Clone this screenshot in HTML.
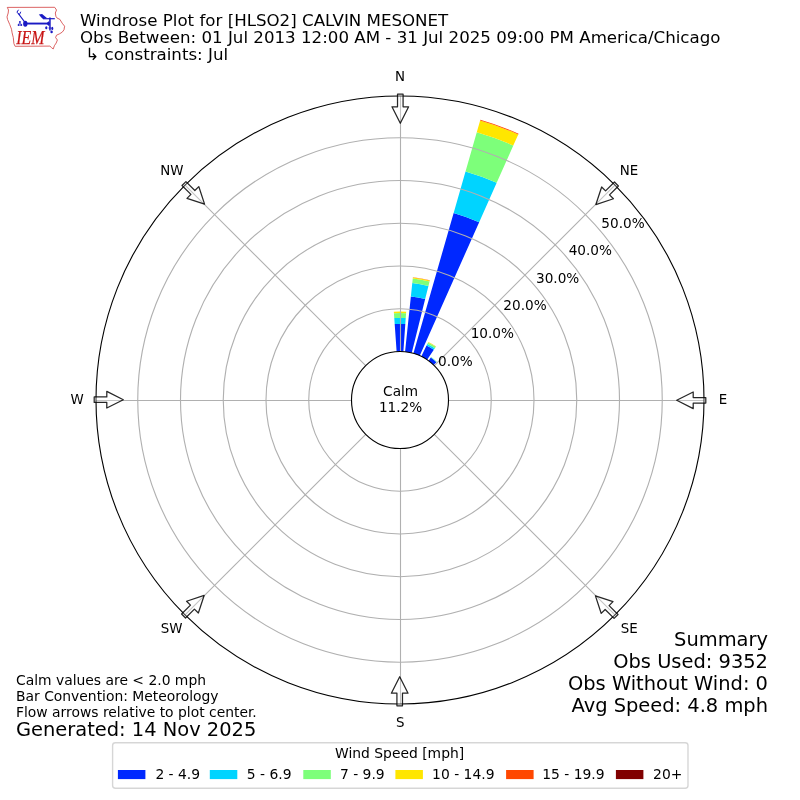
<!DOCTYPE html>
<html lang="en"><head><meta charset="utf-8"><title>Windrose Plot for [HLSO2] CALVIN MESONET</title>
<style>
html,body{margin:0;padding:0;background:#fff;}
body{width:800px;height:800px;overflow:hidden;}
svg{display:block;}
svg text{font-family:"DejaVu Sans","Liberation Sans",sans-serif;fill:#000;}
</style></head><body>
<svg width="800" height="800" viewBox="0 0 800 800">
<rect width="800" height="800" fill="#fff"/>
<g id="iem-logo">
<path d="M7.3 7.4L54.7 7.3L56.5 10L55.3 13L55.9 16.3L57.1 18.1L59.8 19.3L62.2 23.2L64.6 26.2L64 29.8L62.2 32.2L59.2 34L56.5 35.2L55.6 37.6L57.4 40L56.2 43L54.4 45.7L53.2 49L51.4 47.5L49.9 46.1L15.1 46.3L13.9 43.6L13.3 37.6L12.1 32.8L11.5 29.2L9.7 24.4L7.6 19.6L7 16.9L8.2 13L8.5 10Z" fill="none" stroke="#d23c3c" stroke-width="0.8" stroke-linejoin="round"/>
<g fill="#1a1ac4" stroke="none">
<ellipse cx="25.3" cy="23.7" rx="2.2" ry="3"/>
<rect x="25.3" y="22.6" width="24.6" height="1.9"/>
<rect x="49.2" y="17.5" width="1.5" height="13"/>
<path d="M47.2 22.6L49.2 21L49.2 26.2L47.2 24.5Z"/>
<rect x="43" y="18.1" width="11.8" height="1.2"/>
<path d="M38.8 14.4L42.1 14.1L46.9 18.1L43 19.1L41.4 17.6Z"/>
<ellipse cx="46.3" cy="27.8" rx="1.1" ry="1.5"/>
<ellipse cx="52.3" cy="28.4" rx="1.0" ry="1.7"/>
<ellipse cx="51.6" cy="31.9" rx="1.2" ry="1.4"/>
<rect x="48.5" y="27.6" width="2.9" height="0.8"/>
<circle cx="19.9" cy="22" r="0.95"/>
<circle cx="18.7" cy="25" r="1.05"/>
<circle cx="21.2" cy="25" r="1.05"/>
<rect x="18.6" y="23.3" width="2.6" height="0.6"/>
</g>
<g fill="none" stroke="#1a1ac4" stroke-width="1.1" stroke-linecap="round">
<path d="M24.6 21.8L18.4 13.6"/>
<path d="M18.4 13.6L16.9 12.3L18.3 10.1" stroke-width="1"/>
<path d="M19.5 14.6L20.6 12.1" stroke-width="1"/>
</g>
<text x="16.2" y="43.9" font-size="18.3" textLength="28.2" lengthAdjust="spacingAndGlyphs" style="font-family:'Liberation Serif','DejaVu Serif',serif;font-style:italic;fill:#c81414;stroke:#c81414;stroke-width:0.25">IEM</text>
</g>

<g shape-rendering="geometricPrecision">
<path d="M396.62 351.62L394.69 324.09A76.1 76.1 0 0 1 405.31 324.09L403.38 351.62A48.5 48.5 0 0 0 396.62 351.62Z" fill="#0028ff"/>
<path d="M394.69 324.09L394.27 318.1A82.1 82.1 0 0 1 405.73 318.1L405.31 324.09A76.1 76.1 0 0 0 394.69 324.09Z" fill="#00d4ff"/>
<path d="M394.27 318.1L393.93 313.21A87 87 0 0 1 406.07 313.21L405.73 318.1A82.1 82.1 0 0 0 394.27 318.1Z" fill="#7dff7a"/>
<path d="M393.93 313.21L393.83 311.82A88.4 88.4 0 0 1 406.17 311.82L406.07 313.21A87 87 0 0 0 393.93 313.21Z" fill="#ffe600"/>
<path d="M405.07 351.77L410.87 296.57A104 104 0 0 1 425.16 299.09L411.73 352.94A48.5 48.5 0 0 0 405.07 351.77Z" fill="#0028ff"/>
<path d="M410.87 296.57L412.29 283.04A117.6 117.6 0 0 1 428.45 285.89L425.16 299.09A104 104 0 0 0 410.87 296.57Z" fill="#00d4ff"/>
<path d="M412.29 283.04L412.77 278.47A122.2 122.2 0 0 1 429.56 281.43L428.45 285.89A117.6 117.6 0 0 0 412.29 283.04Z" fill="#7dff7a"/>
<path d="M412.77 278.47L412.87 277.57A123.1 123.1 0 0 1 429.78 280.56L429.56 281.43A122.2 122.2 0 0 0 412.77 278.47Z" fill="#ffe600"/>
<path d="M412.87 277.57L412.9 277.28A123.4 123.4 0 0 1 429.85 280.27L429.78 280.56A123.1 123.1 0 0 0 412.87 277.57Z" fill="#ff4700"/>
<path d="M413.37 353.38L453.65 212.89A194.65 194.65 0 0 1 479.17 222.18L419.73 355.69A48.5 48.5 0 0 0 413.37 353.38Z" fill="#0028ff"/>
<path d="M453.65 212.89L465.52 171.51A237.7 237.7 0 0 1 496.68 182.85L479.17 222.18A194.65 194.65 0 0 0 453.65 212.89Z" fill="#00d4ff"/>
<path d="M465.52 171.51L476.78 132.24A278.55 278.55 0 0 1 513.3 145.53L496.68 182.85A237.7 237.7 0 0 0 465.52 171.51Z" fill="#7dff7a"/>
<path d="M476.78 132.24L480.13 120.56A290.7 290.7 0 0 1 518.24 134.43L513.3 145.53A278.55 278.55 0 0 0 476.78 132.24Z" fill="#ffe600"/>
<path d="M480.13 120.56L480.35 119.79A291.5 291.5 0 0 1 518.56 133.7L518.24 134.43A290.7 290.7 0 0 0 480.13 120.56Z" fill="#ff4700"/>
<path d="M421.26 356.41L426.52 345.62A60.5 60.5 0 0 1 433.83 349.84L427.12 359.79A48.5 48.5 0 0 0 421.26 356.41Z" fill="#0028ff"/>
<path d="M426.52 345.62L427.31 344.01A62.3 62.3 0 0 1 434.84 348.35L433.83 349.84A60.5 60.5 0 0 0 426.52 345.62Z" fill="#00d4ff"/>
<path d="M427.31 344.01L428.1 342.39A64.1 64.1 0 0 1 435.84 346.86L434.84 348.35A62.3 62.3 0 0 0 427.31 344.01Z" fill="#7dff7a"/>
<path d="M428.1 342.39L428.23 342.12A64.4 64.4 0 0 1 436.01 346.61L435.84 346.86A64.1 64.1 0 0 0 428.1 342.39Z" fill="#ffe600"/>
<path d="M428.23 342.12L428.34 341.89A64.65 64.65 0 0 1 436.15 346.4L436.01 346.61A64.4 64.4 0 0 0 428.23 342.12Z" fill="#ff4700"/>
<path d="M428.51 360.76L430.8 357.61A52.4 52.4 0 0 1 436.4 362.31L433.69 365.11A48.5 48.5 0 0 0 428.51 360.76Z" fill="#0028ff"/>
<path d="M430.8 357.61L431.04 357.28A52.8 52.8 0 0 1 436.68 362.02L436.4 362.31A52.4 52.4 0 0 0 430.8 357.61Z" fill="#00d4ff"/>
<path d="M431.04 357.28L431.15 357.12A53 53 0 0 1 436.82 361.87L436.68 362.02A52.8 52.8 0 0 0 431.04 357.28Z" fill="#7dff7a"/>
<path d="M431.15 357.12L431.21 357.04A53.1 53.1 0 0 1 436.89 361.8L436.82 361.87A53 53 0 0 0 431.15 357.12Z" fill="#ffe600"/>
</g>
<g fill="none" stroke="#b0b0b0" stroke-width="1.11">
<circle cx="400" cy="400" r="91.25"/>
<circle cx="400" cy="400" r="134"/>
<circle cx="400" cy="400" r="176.75"/>
<circle cx="400" cy="400" r="219.5"/>
<circle cx="400" cy="400" r="262.25"/>
<path d="M400.5 351.5L400.5 96"/>
<path d="M434.29 365.71L614.96 185.04"/>
<path d="M448.5 400.5L704 400.5"/>
<path d="M434.29 434.29L614.96 614.96"/>
<path d="M400.5 448.5L400.5 704"/>
<path d="M365.71 434.29L185.04 614.96"/>
<path d="M351.5 400.5L96 400.5"/>
<path d="M365.71 365.71L185.04 185.04"/>
</g>
<g fill="none" stroke="#000" stroke-width="1.11"><circle cx="400" cy="400" r="304"/><circle cx="400" cy="400" r="48.5"/></g>
<g fill="#fff" fill-opacity="0.25" stroke="#000" stroke-opacity="0.85" stroke-width="1.25" stroke-linejoin="round">
<path d="M400.3 123.3L391.97 106.8L397.52 106.8L397.52 94.2L403.08 94.2L403.08 106.8L408.63 106.8Z"/>
<path d="M595.87 204.56L601.65 187L605.57 190.92L614.48 182.01L618.41 185.94L609.5 194.85L613.43 198.78Z"/>
<path d="M676.7 400.3L693.2 391.97L693.2 397.52L705.8 397.52L705.8 403.08L693.2 403.08L693.2 408.63Z"/>
<path d="M595.44 595.87L613 601.65L609.08 605.57L617.99 614.48L614.06 618.41L605.15 609.5L601.22 613.43Z"/>
<path d="M399.7 676.7L408.03 693.2L402.48 693.2L402.48 705.8L396.92 705.8L396.92 693.2L391.37 693.2Z"/>
<path d="M204.13 595.44L198.35 613L194.43 609.08L185.52 617.99L181.59 614.06L190.5 605.15L186.57 601.22Z"/>
<path d="M123.3 399.7L106.8 408.03L106.8 402.48L94.2 402.48L94.2 396.92L106.8 396.92L106.8 391.37Z"/>
<path d="M204.56 204.13L187 198.35L190.92 194.43L182.01 185.52L185.94 181.59L194.85 190.5L198.78 186.57Z"/>
</g>
<rect x="112.6" y="742.7" width="575.4" height="45.6" rx="2.8" ry="2.8" fill="#fff" fill-opacity="0.8" stroke="#ccc" stroke-opacity="0.8" stroke-width="1.39"/>
<rect x="117.9" y="770" width="27.5" height="9.1" fill="#0028ff"/>
<rect x="209.8" y="770" width="27.5" height="9.1" fill="#00d4ff"/>
<rect x="303.3" y="770" width="27.5" height="9.1" fill="#7dff7a"/>
<rect x="395.4" y="770" width="27.5" height="9.1" fill="#ffe600"/>
<rect x="506.1" y="770" width="27.5" height="9.1" fill="#ff4700"/>
<rect x="615.9" y="770" width="27.5" height="9.1" fill="#800000"/>
<g>
<text x="400.1" y="80.9" font-size="13.4" text-anchor="middle">N</text>
<text x="629" y="174.85" font-size="13.4" text-anchor="middle">NE</text>
<text x="723" y="403.9" font-size="13.4" text-anchor="middle">E</text>
<text x="629.3" y="633" font-size="13.4" text-anchor="middle">SE</text>
<text x="400.3" y="726.8" font-size="13.4" text-anchor="middle">S</text>
<text x="171.6" y="633" font-size="13.4" text-anchor="middle">SW</text>
<text x="77" y="403.85" font-size="13.4" text-anchor="middle">W</text>
<text x="171.8" y="174.9" font-size="13.4" text-anchor="middle">NW</text>
<text x="438" y="365.6" font-size="13.65">0.0%</text>
<text x="470.67" y="338.01" font-size="13.65">10.0%</text>
<text x="503.34" y="310.42" font-size="13.65">20.0%</text>
<text x="536.01" y="282.83" font-size="13.65">30.0%</text>
<text x="568.68" y="255.24" font-size="13.65">40.0%</text>
<text x="601.35" y="227.65" font-size="13.65">50.0%</text>
<text x="400.6" y="395.9" font-size="13.65" text-anchor="middle">Calm</text>
<text x="400.6" y="411.9" font-size="13.65" text-anchor="middle">11.2%</text>
<text x="80" y="25.5" font-size="16.67">Windrose Plot for [HLSO2] CALVIN MESONET</text>
<text x="80" y="42.6" font-size="16.67">Obs Between: 01 Jul 2013 12:00 AM - 31 Jul 2025 09:00 PM America/Chicago</text>
<text x="80" y="60.3" font-size="16.67" xml:space="preserve" style="white-space:pre"> ↳ constraints: Jul</text>
<text x="16" y="685.2" font-size="13.89">Calm values are &lt; 2.0 mph</text>
<text x="16" y="701.2" font-size="13.89">Bar Convention: Meteorology</text>
<text x="16" y="717.2" font-size="13.89">Flow arrows relative to plot center.</text>
<text x="16" y="736" font-size="19.44">Generated: 14 Nov 2025</text>
<text x="768" y="645.6" font-size="19.44" text-anchor="end">Summary</text>
<text x="768" y="667.6" font-size="19.44" text-anchor="end">Obs Used: 9352</text>
<text x="768" y="690" font-size="19.44" text-anchor="end">Obs Without Wind: 0</text>
<text x="768" y="712" font-size="19.44" text-anchor="end">Avg Speed: 4.8 mph</text>
<text x="155.38" y="779" font-size="13.89">2 - 4.9</text>
<text x="246.78" y="779" font-size="13.89">5 - 6.9</text>
<text x="339.98" y="779" font-size="13.89">7 - 9.9</text>
<text x="432.08" y="779" font-size="13.89">10 - 14.9</text>
<text x="542.18" y="779" font-size="13.89">15 - 19.9</text>
<text x="653.08" y="779" font-size="13.89">20+</text>
<text x="399.6" y="757.6" font-size="13.89" text-anchor="middle">Wind Speed [mph]</text>
</g>
</svg>
</body></html>
